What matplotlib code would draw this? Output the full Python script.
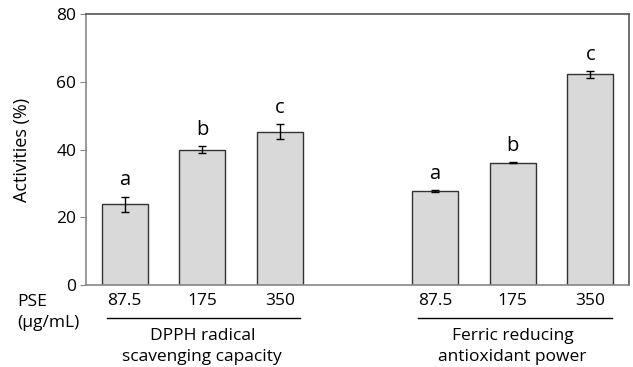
import matplotlib
matplotlib.use("Agg")
import matplotlib.pyplot as plt
import matplotlib.transforms as mtransforms

plt.rcParams['font.family'] = ['Open Sans', 'DejaVu Sans']

# data
doses = ['87.5', '175', '350', '87.5', '175', '350']
activities = [23.8, 39.9, 45.3, 27.8, 36.1, 62.2]
errors = [2.3, 1.0, 2.2, 0.3, 0.2, 1.0]
letters = ['a', 'b', 'c', 'a', 'b', 'c']
groups = ['DPPH radical\nscavenging capacity', 'Ferric reducing\nantioxidant power']
positions = [0, 1, 2, 4, 5, 6]

fig = plt.figure(figsize=(6.33, 3.67), dpi=100)
ax = fig.add_axes([86 / 633, 82 / 367, 543 / 633, 271 / 367])

ax.bar(positions, activities, width=0.59, color='#d9d9d9', edgecolor='#333333',
       linewidth=1.0, yerr=errors, capsize=3,
       error_kw=dict(ecolor='black', elinewidth=1.0, capthick=1.0))

for x, v, e, lab in zip(positions, activities, errors, letters):
    ax.text(x, v + e + 1.8, lab, ha='center', va='bottom', fontsize=14.5)

ax.set_xlim(-0.5, 6.5)
ax.set_ylim(0, 80)
ax.set_yticks([0, 20, 40, 60, 80])
ax.set_xticks(positions)
ax.set_xticklabels(doses, fontsize=12.5)
ax.tick_params(axis='x', length=0, pad=6)
ax.tick_params(axis='y', labelsize=12.5, length=4, color='#888888', direction='out', pad=3)
ax.set_ylabel('Activities (%)', fontsize=13, labelpad=18)

for s in ['left', 'bottom']:
    ax.spines[s].set_color('#888888')
for s in ['top', 'right']:
    ax.spines[s].set_color('#555555')
for s in ax.spines.values():
    s.set_linewidth(1.2)

trans = mtransforms.blended_transform_factory(ax.transData, ax.transAxes)
ax.plot([-0.23, 2.26], [-0.122, -0.122], color='black', lw=1.0,
        transform=trans, clip_on=False)
ax.plot([3.78, 6.28], [-0.122, -0.122], color='black', lw=1.0,
        transform=trans, clip_on=False)
ax.text(1, -0.158, groups[0], ha='center', va='top', fontsize=12.5,
        transform=trans, linespacing=1.4)
ax.text(5, -0.158, groups[1], ha='center', va='top', fontsize=12.5,
        transform=trans, linespacing=1.4)

fig.text(17 / 633, 1 - 302 / 367, 'PSE', ha='left', va='center', fontsize=12.5)
fig.text(17 / 633, 1 - 323 / 367, '(μg/mL)', ha='left', va='center', fontsize=12.5)

fig.savefig('out.png', dpi=100)
